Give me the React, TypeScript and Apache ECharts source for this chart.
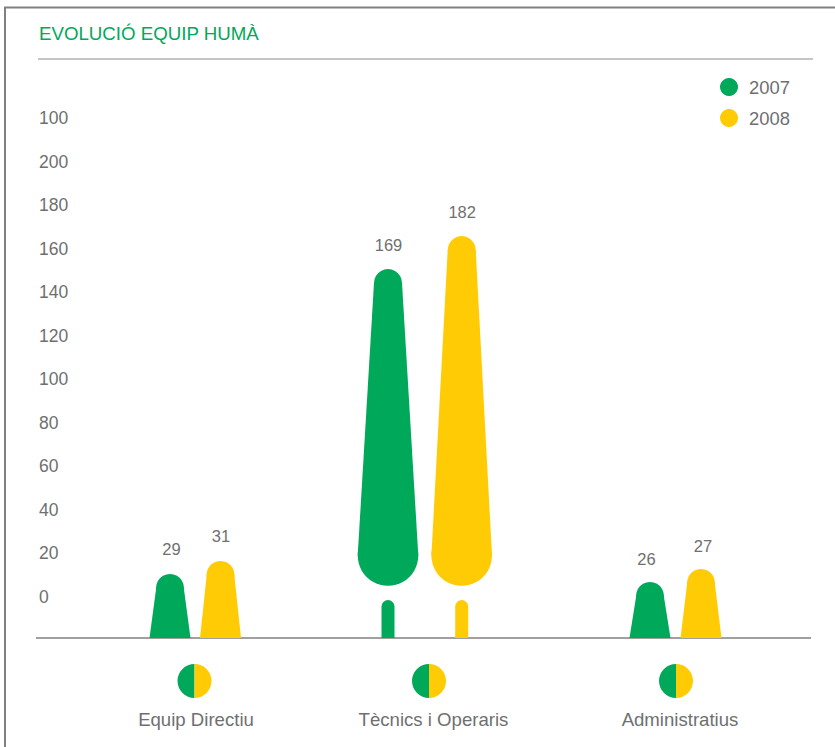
import React, { useEffect, useRef } from "react";
import * as echarts from "echarts";

const categories = ["Equip Directiu", "Tècnics i Operaris", "Administratius"];
const legendNames = ["2007", "2008"];
const labels2007 = [29, 169, 26];
const labels2008 = [31, 182, 27];
// Heights as drawn in the picture (the printed numbers and the shapes differ slightly)
const drawn2007 = [29.1, 167.7, 25.5];
const drawn2008 = [35, 182.7, 31.4];
const axisTickLabels: Record<string, string> = { "-20": "", "220": "100" };

const GREEN = "#00A859";
const YELLOW = "#FFCB05";
const GRAY = "#6f6f70";
const LINE = "#808080";
const FONT = "'Liberation Sans', Arial, sans-serif";

// Horizontal layout, pixels from each category's band centre
const offsets2007 = [-26, -48, -26];
const offsets2008 = [24.5, 25.7, 25];
const iconOffsets = [-1.5, -7, 0];
// Value-label placement relative to the top of each shape
const labelDx2007 = [1.5, 0.5, -3.5];
const labelDx2008 = [0.5, 0.5, 2];
const labelDy = [25, 24.5, 23];

function treeRenderer(offsets: number[], labelDx: number[], color: string) {
  return (params: any, api: any) => {
    const i = api.value(0);
    const base = api.coord([i, 0]);
    const top = api.coord([i, api.value(1)]);
    const cx = base[0] + offsets[i];
    const by = base[1];
    const ty = top[1];
    const style = { fill: color };
    const children: any[] = [];
    const tr = 14;
    children.push({ type: "circle", shape: { cx, cy: ty + tr, r: tr }, style });
    if (by - ty > 200) {
      const bcy = by - 82.5;
      const br = 30.3;
      children.push({
        type: "polygon",
        shape: { points: [[cx - tr, ty + tr], [cx + tr, ty + tr], [cx + br, bcy], [cx - br, bcy]] },
        style,
      });
      children.push({ type: "circle", shape: { cx, cy: bcy, r: br }, style });
      children.push({
        type: "rect",
        shape: { x: cx - 6.5, y: by - 38, width: 13, height: 38, r: [6.5, 6.5, 0, 0] },
        style,
      });
    } else {
      children.push({
        type: "polygon",
        shape: { points: [[cx - tr + 0.2, ty + tr], [cx + tr - 0.2, ty + tr], [cx + 20.5, by], [cx - 20.5, by]] },
        style,
      });
    }
    children.push({
      type: "text",
      x: cx + labelDx[i],
      y: ty - labelDy[i],
      style: {
        text: String(api.value(2)),
        fill: GRAY,
        font: `16.5px ${FONT}`,
        align: "center",
        verticalAlign: "middle",
      },
    });
    return { type: "group", children };
  };
}

function iconRenderer(params: any, api: any) {
  const i = api.value(0);
  const base = api.coord([i, 0]);
  const cx = base[0] + iconOffsets[i];
  const cy = base[1] + 43;
  const r = 17;
  return {
    type: "group",
    children: [
      {
        type: "sector",
        shape: { cx, cy, r0: 0, r, startAngle: Math.PI / 2, endAngle: (3 * Math.PI) / 2, clockwise: true },
        style: { fill: GREEN },
      },
      {
        type: "sector",
        shape: { cx, cy, r0: 0, r, startAngle: -Math.PI / 2, endAngle: Math.PI / 2, clockwise: true },
        style: { fill: YELLOW },
      },
    ],
  };
}

export default function App() {
  const ref = useRef<HTMLDivElement>(null);
  useEffect(() => {
    const chart = echarts.init(ref.current!, undefined, { renderer: "svg" });
    chart.setOption({
      animation: false,
      backgroundColor: "#fff",
      textStyle: { fontFamily: FONT },
      title: {
        text: "EVOLUCIÓ EQUIP HUMÀ",
        left: 39,
        top: 24,
        padding: 0,
        textStyle: { color: GREEN, fontSize: 18.7, fontWeight: "normal", fontFamily: FONT },
      },
      legend: {
        data: legendNames,
        orient: "vertical",
        left: 720,
        top: 78,
        padding: 0,
        itemWidth: 18,
        itemHeight: 18,
        itemGap: 13,
        icon: "circle",
        selectedMode: false,
        textStyle: { color: GRAY, fontSize: 18.4, fontFamily: FONT, padding: [0, 0, 0, 6] },
      },
      grid: { left: 76, right: 39, top: 118, bottom: 106.5 },
      xAxis: {
        type: "category",
        data: [
          { value: categories[0] },
          { value: categories[1], textStyle: { padding: [0, 5, 0, 0] } },
          { value: categories[2], textStyle: { padding: [0, 0, 0, 8] } },
        ],
        axisLine: { show: false },
        axisTick: { show: false },
        axisLabel: { color: GRAY, fontSize: 18.6, fontFamily: FONT, margin: 69.5, interval: 0 },
      },
      yAxis: [
        { type: "value", show: false, min: -1.136, max: 236.36, splitLine: { show: false } },
        {
          type: "value",
          position: "left",
          min: -20,
          max: 220,
          interval: 20,
          axisLine: { show: false },
          axisTick: { show: false },
          splitLine: { show: false },
          axisLabel: {
            color: GRAY,
            fontSize: 17.5,
            fontFamily: FONT,
            align: "left",
            margin: 37,
            formatter: (v: number) => (String(v) in axisTickLabels ? axisTickLabels[String(v)] : String(v)),
          },
        },
      ],
      series: [
        {
          name: legendNames[0],
          type: "custom",
          xAxisIndex: 0,
          yAxisIndex: 0,
          clip: false,
          itemStyle: { color: GREEN },
          renderItem: treeRenderer(offsets2007, labelDx2007, GREEN),
          data: categories.map((_, i) => [i, drawn2007[i], labels2007[i]]),
        },
        {
          name: legendNames[1],
          type: "custom",
          xAxisIndex: 0,
          yAxisIndex: 0,
          clip: false,
          itemStyle: { color: YELLOW },
          renderItem: treeRenderer(offsets2008, labelDx2008, YELLOW),
          data: categories.map((_, i) => [i, drawn2008[i], labels2008[i]]),
        },
        {
          name: "icons",
          type: "custom",
          xAxisIndex: 0,
          yAxisIndex: 0,
          clip: false,
          silent: true,
          renderItem: iconRenderer,
          data: categories.map((_, i) => [i, 0]),
        },
      ],
      graphic: [
        {
          type: "polyline",
          shape: { points: [[5, 747], [5, 7.5], [835, 7.5]] },
          style: { stroke: LINE, lineWidth: 2, fill: "none" },
        },
        {
          type: "line",
          shape: { x1: 38, y1: 59, x2: 813, y2: 59 },
          style: { stroke: "#8c8c8c", lineWidth: 1.2 },
        },
        {
          type: "line",
          shape: { x1: 36, y1: 638, x2: 811, y2: 638 },
          style: { stroke: LINE, lineWidth: 1.5 },
        },
      ],
    });
    return () => chart.dispose();
  }, []);
  return <div ref={ref} style={{ position: "absolute", left: 0, top: 0, width: 835, height: 747 }} />;
}
